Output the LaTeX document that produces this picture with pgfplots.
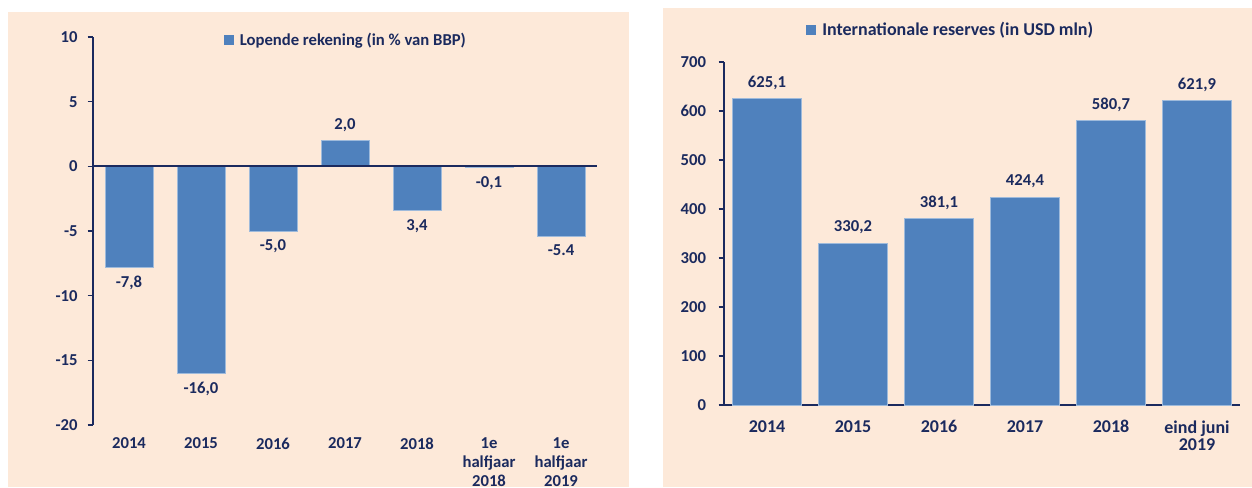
\documentclass[border=0pt]{standalone}
\usepackage{pgfplots}
\usepackage{pgfplotstable}
\usepackage{fontspec}
\pgfplotsset{compat=1.18}
\setmainfont{Carlito}

\definecolor{peach}{HTML}{FDE9D9}
\definecolor{barblue}{HTML}{4F81BD}
\definecolor{navy}{HTML}{1B2A5E}

% lopende rekening, % of GDP (labels as printed in the source)
\pgfplotstableread{
x y lab
3 2.0 2,0
}\lopendepos
\pgfplotstableread{
x y lab
0 -7.8 -7,8
1 -16.0 -16,0
2 -5.0 -5,0
4 -3.4 3,4
5 -0.1 -0,1
6 -5.4 -5.4
}\lopendeneg

% international reserves, USD mln
\pgfplotstableread{
x y lab
0 625.1 625,1
1 330.2 330,2
2 381.1 381,1
3 424.4 424,4
4 580.7 580,7
5 621.9 621,9
}\reserves

\pgfplotsset{
  panel/.style={
    scale only axis, anchor=south west, ybar,
    axis y line*=left, axis x line*=bottom,
    y axis line style={navy, line width=1.5pt},
    tick align=outside, major tick length=4pt,
    ytick style={navy, line width=1.2pt},
    major x tick style={draw=none},
    yticklabel style={text=navy, font=\bfseries\fontsize{12.5}{14}\selectfont},
    xticklabel style={align=center, text=navy},
    point meta=explicit symbolic,
    nodes near coords,
    every node near coord/.append style={text=navy, inner sep=6.5pt,
      font=\bfseries\fontsize{12.5}{14}\selectfont},
    legend style={draw=none, fill=none, inner sep=0pt, text=navy,
      nodes={inner sep=2pt}},
    legend image code/.code={\fill[barblue] (0pt,-3.4pt) rectangle (6.8pt,3.4pt);
      \path (9.5pt,0pt);},
  },
  bars/.style={fill=barblue, draw=barblue!55!white, line width=0.5pt, bar shift=0pt},
}

\begin{document}
\begin{tikzpicture}
\useasboundingbox (0,0) rectangle (939pt,365.25pt);
\clip (0,0) rectangle (939pt,365.25pt);
\fill[white] (0,0) rectangle (939pt,365.25pt);
\fill[peach] (6pt,0) rectangle (471.75pt,356.25pt);
\fill[peach] (497.25pt,0) rectangle (939pt,359.25pt);

\begin{axis}[panel,
  at={(69.75pt,46.5pt)}, width=378pt, height=291pt,
  xmin=-0.5, xmax=6.5, ymin=-20, ymax=10,
  x axis line style={draw=none},
  ytick={-20,-15,-10,-5,0,5,10},
  yticklabels={-20,-15,-10,-5,0,5,10},
  yticklabel style={xshift=-4pt},
  xtick={0,...,6},
  xticklabels={2014,2015,2016,2017,2018,{1e\\halfjaar\\2018},{1e\\halfjaar\\2019}},
  xticklabel style={yshift=-2pt, font=\bfseries\fontsize{12.5}{14.25}\selectfont},
  legend style={at={(axis description cs:0.259,0.992)}, anchor=west,
    font=\bfseries\fontsize{12.5}{14}\selectfont},
]
\addplot[bars, bar width=36pt, nodes near coords align=above]
  table[x=x, y=y, meta=lab] {\lopendepos};
\addplot[bars, bar width=36pt, forget plot, nodes near coords align=below]
  table[x=x, y=y, meta=lab] {\lopendeneg};
\legend{Lopende rekening (in \% van BBP)}
\draw[navy, line width=1.5pt] (axis cs:-0.5,0) -- (axis cs:6.5,0);
\end{axis}

\begin{axis}[panel,
  at={(543pt,61.5pt)}, width=387pt, height=257.25pt,
  xmin=-0.5, xmax=5.5, ymin=0, ymax=700,
  x axis line style={navy, line width=1.5pt},
  ytick={0,100,200,300,400,500,600,700},
  yticklabels={0,100,200,300,400,500,600,700},
  yticklabel style={xshift=-6pt},
  xtick={0,...,5},
  xticklabels={2014,2015,2016,2017,2018,{eind juni\\2019}},
  xticklabel style={yshift=-4pt, font=\bfseries\fontsize{13.5}{12.75}\selectfont},
  legend style={at={(axis description cs:0.159,1.093)}, anchor=west,
    font=\bfseries\fontsize{13.5}{15}\selectfont},
]
\addplot[bars, bar width=51.75pt]
  table[x=x, y=y, meta=lab] {\reserves};
\legend{Internationale reserves (in USD mln)}
\end{axis}
\end{tikzpicture}
\end{document}
